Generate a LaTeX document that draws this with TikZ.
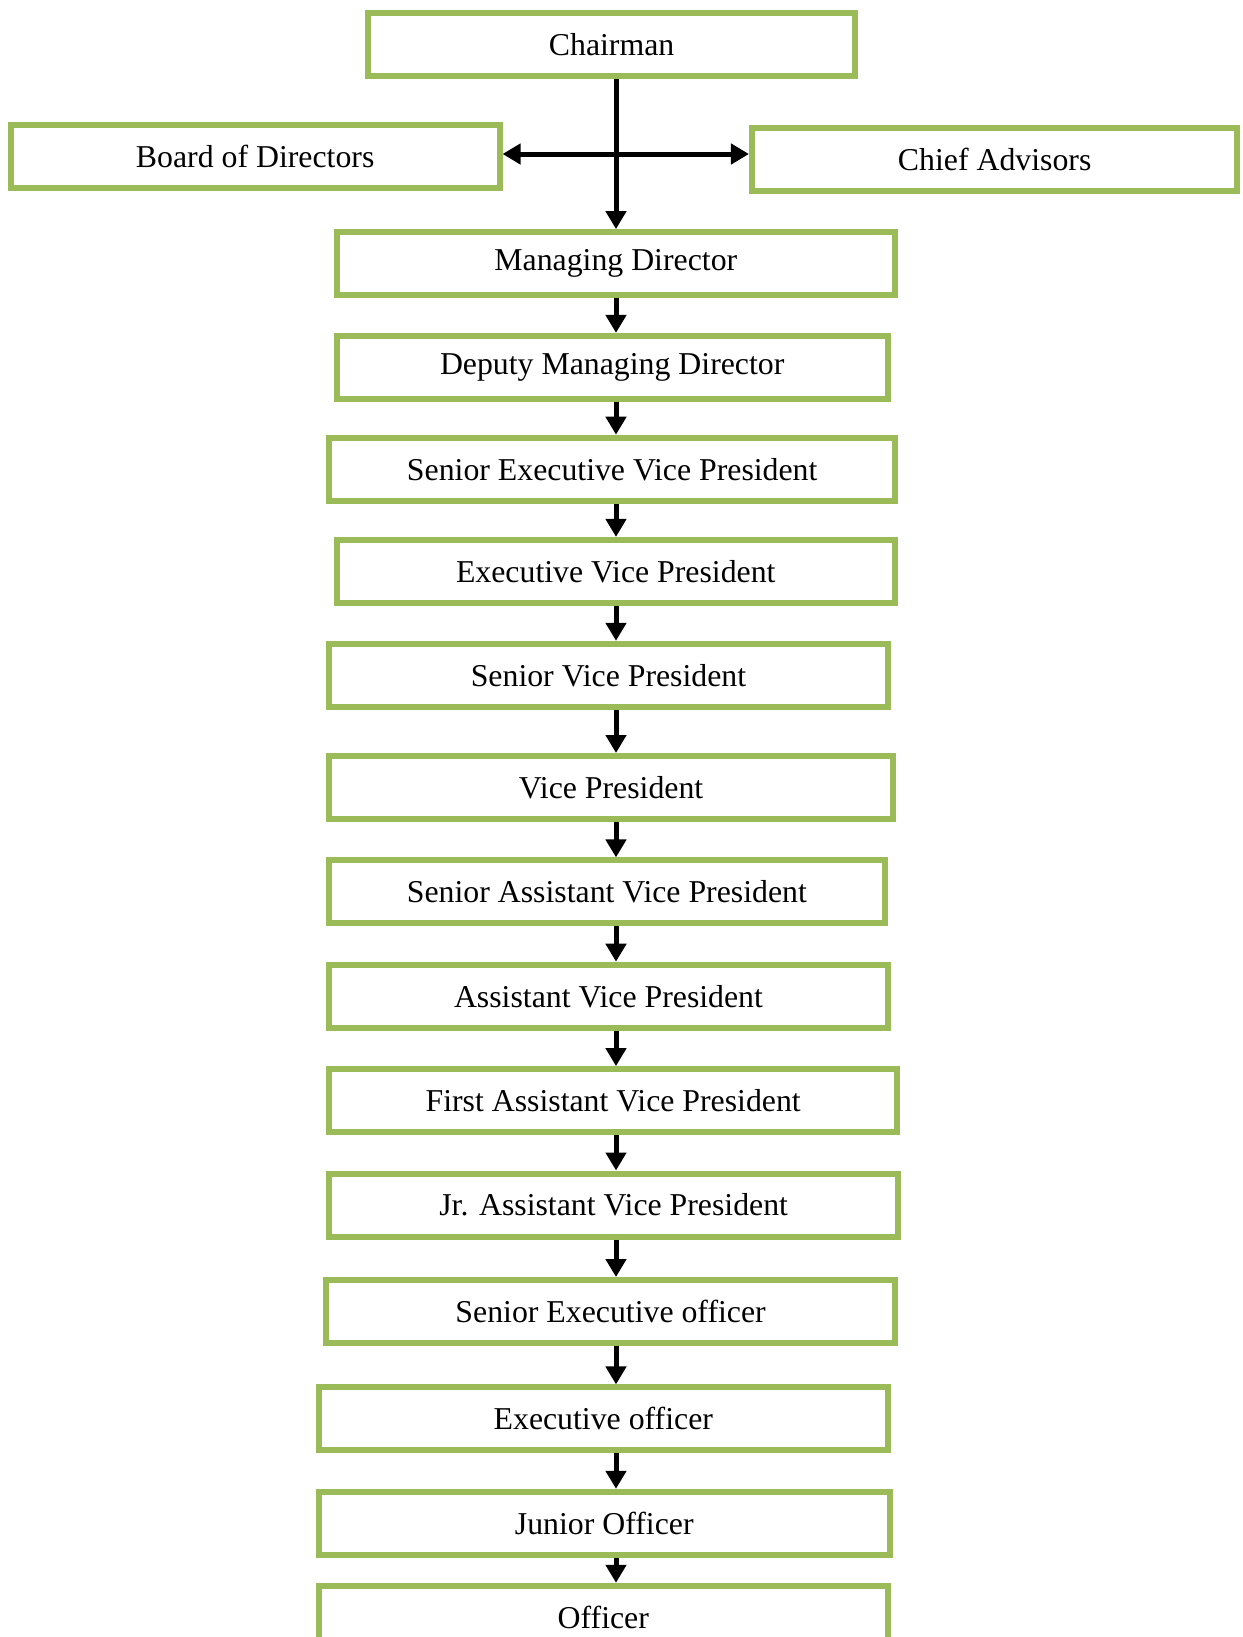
\documentclass[tikz,border=0pt]{standalone}
\usepackage{fontspec}
\setmainfont{Liberation Serif}
\usetikzlibrary{arrows.meta}
\definecolor{leafgreen}{HTML}{9BBB59}

\begin{document}
\begin{tikzpicture}[x={(0.02cm,0cm)}, y={(0cm,-0.02cm)},
        post/.style={draw=leafgreen, line width=0.12cm, rectangle, inner sep=0pt,
            minimum height=63*0.02cm, font=\fontsize{18.1}{21}\selectfont},
        link/.style={line width=0.1cm, -{Triangle[length=0.36cm,width=0.4cm]}}]

    \clip (0,0) rectangle (1242,1637);

    \node[post, minimum width=487.6*0.02cm] (chair) at (611.6,44.4) {Chairman};
    \node[post, minimum width=488.7*0.02cm] (board) at (255.2,156.1) {Board of Directors};
    \node[post, minimum width=485.5*0.02cm] (chief) at (994.7,159.7) {Chief Advisors};

    \foreach \nm/\cx/\cy/\w/\txt in {
            md/615.8/263.6/558.6/Managing Director,
            dmd/612.2/367.4/551.3/Deputy Managing Director,
            sevp/612.2/469.2/565.9/Senior Executive Vice President,
            evp/615.8/571.4/558.6/Executive Vice President,
            svp/608.5/675.3/558.6/Senior Vice President,
            vp/611.1/787.5/563.8/Vice President,
            savp/606.9/891.9/555.4/Senior Assistant Vice President,
            avp/608.5/996.2/558.6/Assistant Vice President,
            favp/613.2/1100.6/568/First Assistant Vice President,
            javp/613.7/1205.0/569/Jr. Assistant Vice President,
            seo/610.6/1311.5/569.1/Senior Executive officer,
            eo/603.3/1418.9/569.1/Executive officer,
            jo/604.3/1523.3/571.2/Junior Officer,
            off/603.3/1617.3/569.1/Officer}
    \node[post, minimum width=\w*0.02cm] (\nm) at (\cx,\cy) {\txt};

    \coordinate (spine) at (616,0);
    \coordinate (cross) at (616,154);

    \draw[link] (chair.south -| spine) -- (md.north -| spine);
    \draw[link, {Triangle[length=0.36cm,width=0.4cm]}-{Triangle[length=0.36cm,width=0.4cm]}]
    (board.east |- cross) -- (chief.west |- cross);

    \foreach \a/\b in {md/dmd, dmd/sevp, sevp/evp, evp/svp, svp/vp, vp/savp,
            savp/avp, avp/favp, favp/javp, javp/seo, seo/eo, eo/jo, jo/off}
    \draw[link] (\a.south -| spine) -- (\b.north -| spine);
\end{tikzpicture}
\end{document}
